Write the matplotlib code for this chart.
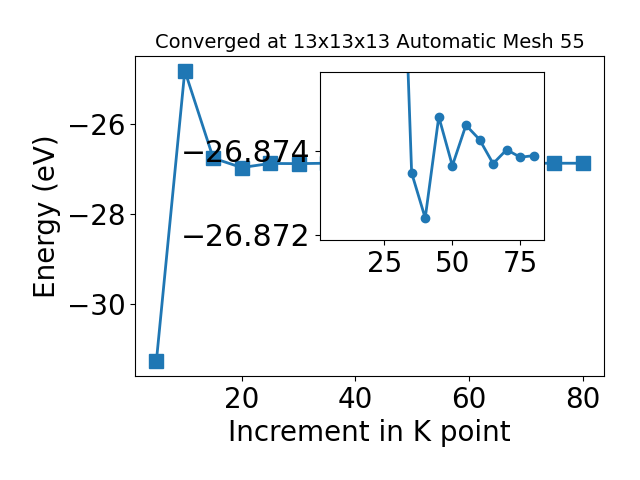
import matplotlib
matplotlib.use("Agg")
import matplotlib.pyplot as plt

kpoints = [5, 10, 15, 20, 25, 30, 35, 40, 45, 50, 55, 60, 65, 70, 75, 80]
energy = [-31.27, -24.82, -26.76, -26.97, -26.879, -26.8826, -26.87347, -26.87240,
          -26.87480, -26.87364, -26.87460, -26.87426, -26.87369, -26.87402,
          -26.87384, -26.87388]
inset_start = 5  # inset shows points from 30 onward
inset_ylim = (-26.87188, -26.87586)

title = "Converged at 13x13x13 Automatic Mesh 55"

fig = plt.figure(figsize=(6.4, 4.8), dpi=100)
ax = fig.add_axes([0.211, 0.217, 0.733, 0.666])
ax.plot(kpoints, energy, marker='s', markersize=10, linewidth=2, color='#1f77b4')
ax.set_xlabel("Increment in K point", fontsize=20)
ax.set_ylabel("Energy (eV)", fontsize=20)
ax.set_title(title, fontsize=14)
ax.tick_params(labelsize=20)

ins = fig.add_axes([0.5, 0.5, 0.35, 0.35])
ins.plot(kpoints[inset_start:], energy[inset_start:], marker='o', markersize=6,
         linewidth=2, color='#1f77b4')
ins.set_xlim(ax.get_xlim())
ins.set_ylim(*inset_ylim)
ins.set_xticks([25, 50, 75])
ins.set_yticks([-26.874, -26.872])
ins.ticklabel_format(axis='y', useOffset=False, style='plain')
ins.tick_params(axis='x', labelsize=20)
ins.tick_params(axis='y', labelsize=21.5)

fig.savefig("out.png", dpi=100)
